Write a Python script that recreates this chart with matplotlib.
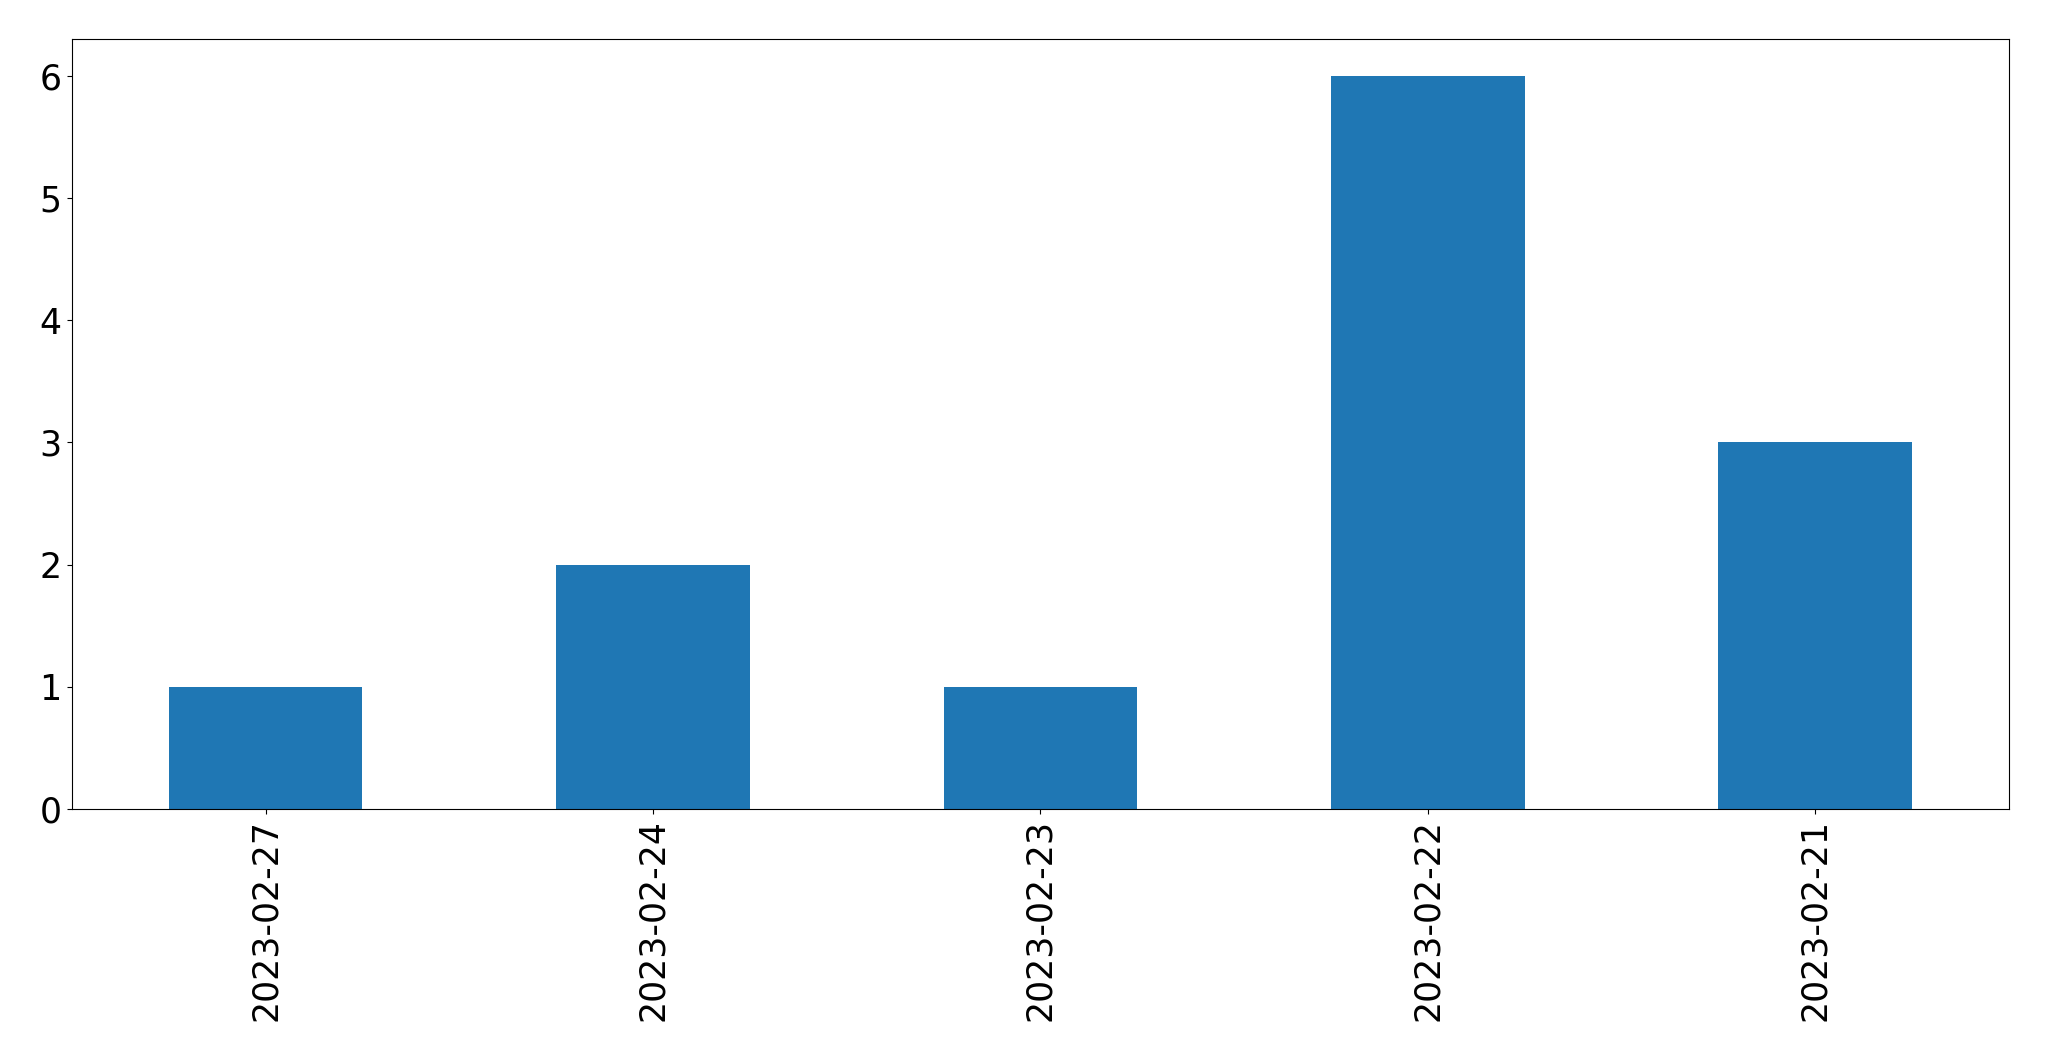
import matplotlib
matplotlib.use("Agg")
import matplotlib.pyplot as plt
import pandas as pd

dates = ["2023-02-27", "2023-02-24", "2023-02-23", "2023-02-22", "2023-02-21"]
counts = [1, 2, 1, 6, 3]

s = pd.Series(counts, index=dates)

fig = plt.figure(figsize=(20.49, 10.61), dpi=100)
ax = fig.add_axes([0.0351, 0.2375, 0.9454, 0.7257])
s.plot(kind="bar", ax=ax, color="#1f77b4", fontsize=25)
ax.tick_params(length=3.8)

fig.savefig("out.png", dpi=100)
